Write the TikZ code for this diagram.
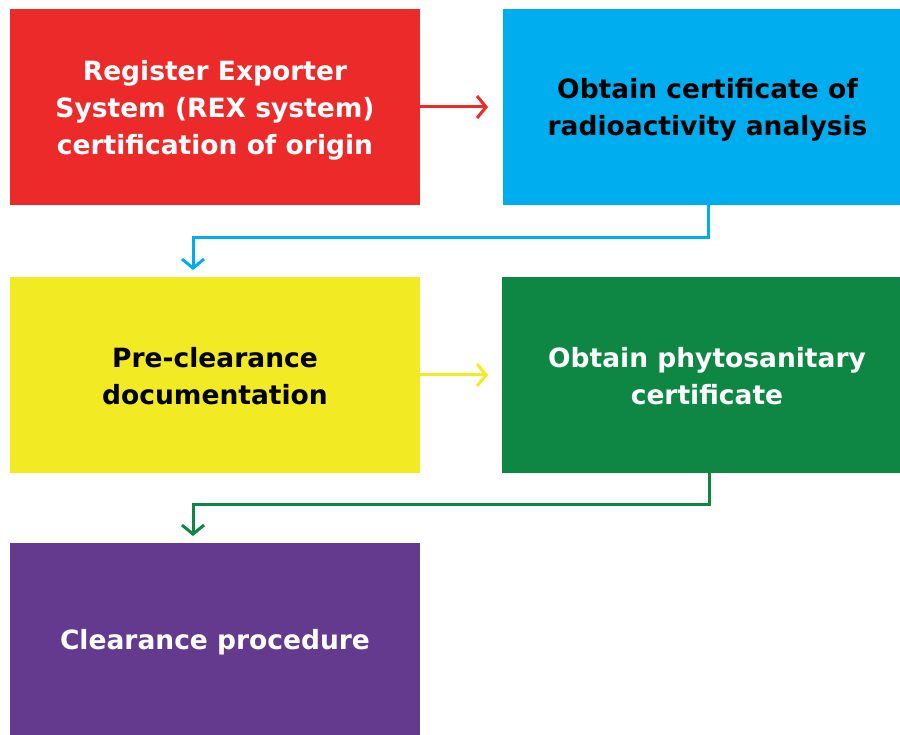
\documentclass[tikz,border=0pt]{standalone}
\usepackage{fontspec}
\setmainfont{DejaVu Sans}
\usetikzlibrary{arrows.meta}
\definecolor{cred}{HTML}{ED2A2A}
\definecolor{cblue}{HTML}{00AEEF}
\definecolor{cyellow}{HTML}{F2EA22}
\definecolor{cgreen}{HTML}{0F8744}
\definecolor{cpurple}{HTML}{633A8D}
\tikzset{
  boxnode/.style={minimum width=410pt, minimum height=196pt, inner sep=0pt, outer sep=0pt, anchor=north west},
  boxtext/.style={align=center, inner sep=0pt, font=\bfseries\fontsize{26.5}{37}\selectfont},
  conn/.style={line width=3pt, -{Straight Barb[length=9pt,width=22pt,line width=3pt]}},
  elbow/.style={line width=3pt, -{Straight Barb[length=9pt,width=22pt,line width=3pt]}}
}
\begin{document}
\begin{tikzpicture}[x=1pt,y=-1pt]
\useasboundingbox (0,0) rectangle (900,735);
\node[boxnode, fill=cred] (rex) at (10,9) {};
\node[boxnode, fill=cblue, minimum width=397pt] (rad) at (503,9) {};
\node[boxnode, fill=cyellow] (pre) at (10,277) {};
\node[boxnode, fill=cgreen, minimum width=398pt] (phy) at (502,277) {};
\node[boxnode, fill=cpurple, minimum height=192pt] (clr) at (10,543) {};
\node[boxtext, text=white] (trex) at ([yshift=-3pt]rex.center) {Register Exporter\\System (REX system)\\certification of origin};
\node[boxtext, text=black] (trad) at ([yshift=-3pt,xshift=6pt]rad.center) {Obtain certificate of\\radioactivity analysis};
\node[boxtext, text=black] (tpre) at ([yshift=-1pt]pre.center) {Pre-clearance\\documentation};
\node[boxtext, text=white] (tphy) at ([yshift=-1pt,xshift=6pt]phy.center) {Obtain phytosanitary\\certificate};
\node[boxtext, text=white] (tclr) at ([yshift=-3pt]clr.center) {Clearance procedure};
\coordinate (b1) at (708,238);
\coordinate (b2) at (193,238);
\coordinate (g1) at (709,504);
\coordinate (g2) at (193,504);
\draw[conn, cred] (rex.east) -- ++(68,0);
\draw[conn, cyellow] (pre.east) -- ++(68,0);
\draw[elbow, cblue] (rad.south -| b1) -- (b1) -- (b2) -- ([yshift=7pt]b2 |- pre.north);
\draw[elbow, cgreen] (phy.south -| g1) -- (g1) -- (g2) -- ([yshift=7pt]g2 |- clr.north);
\end{tikzpicture}
\end{document}
